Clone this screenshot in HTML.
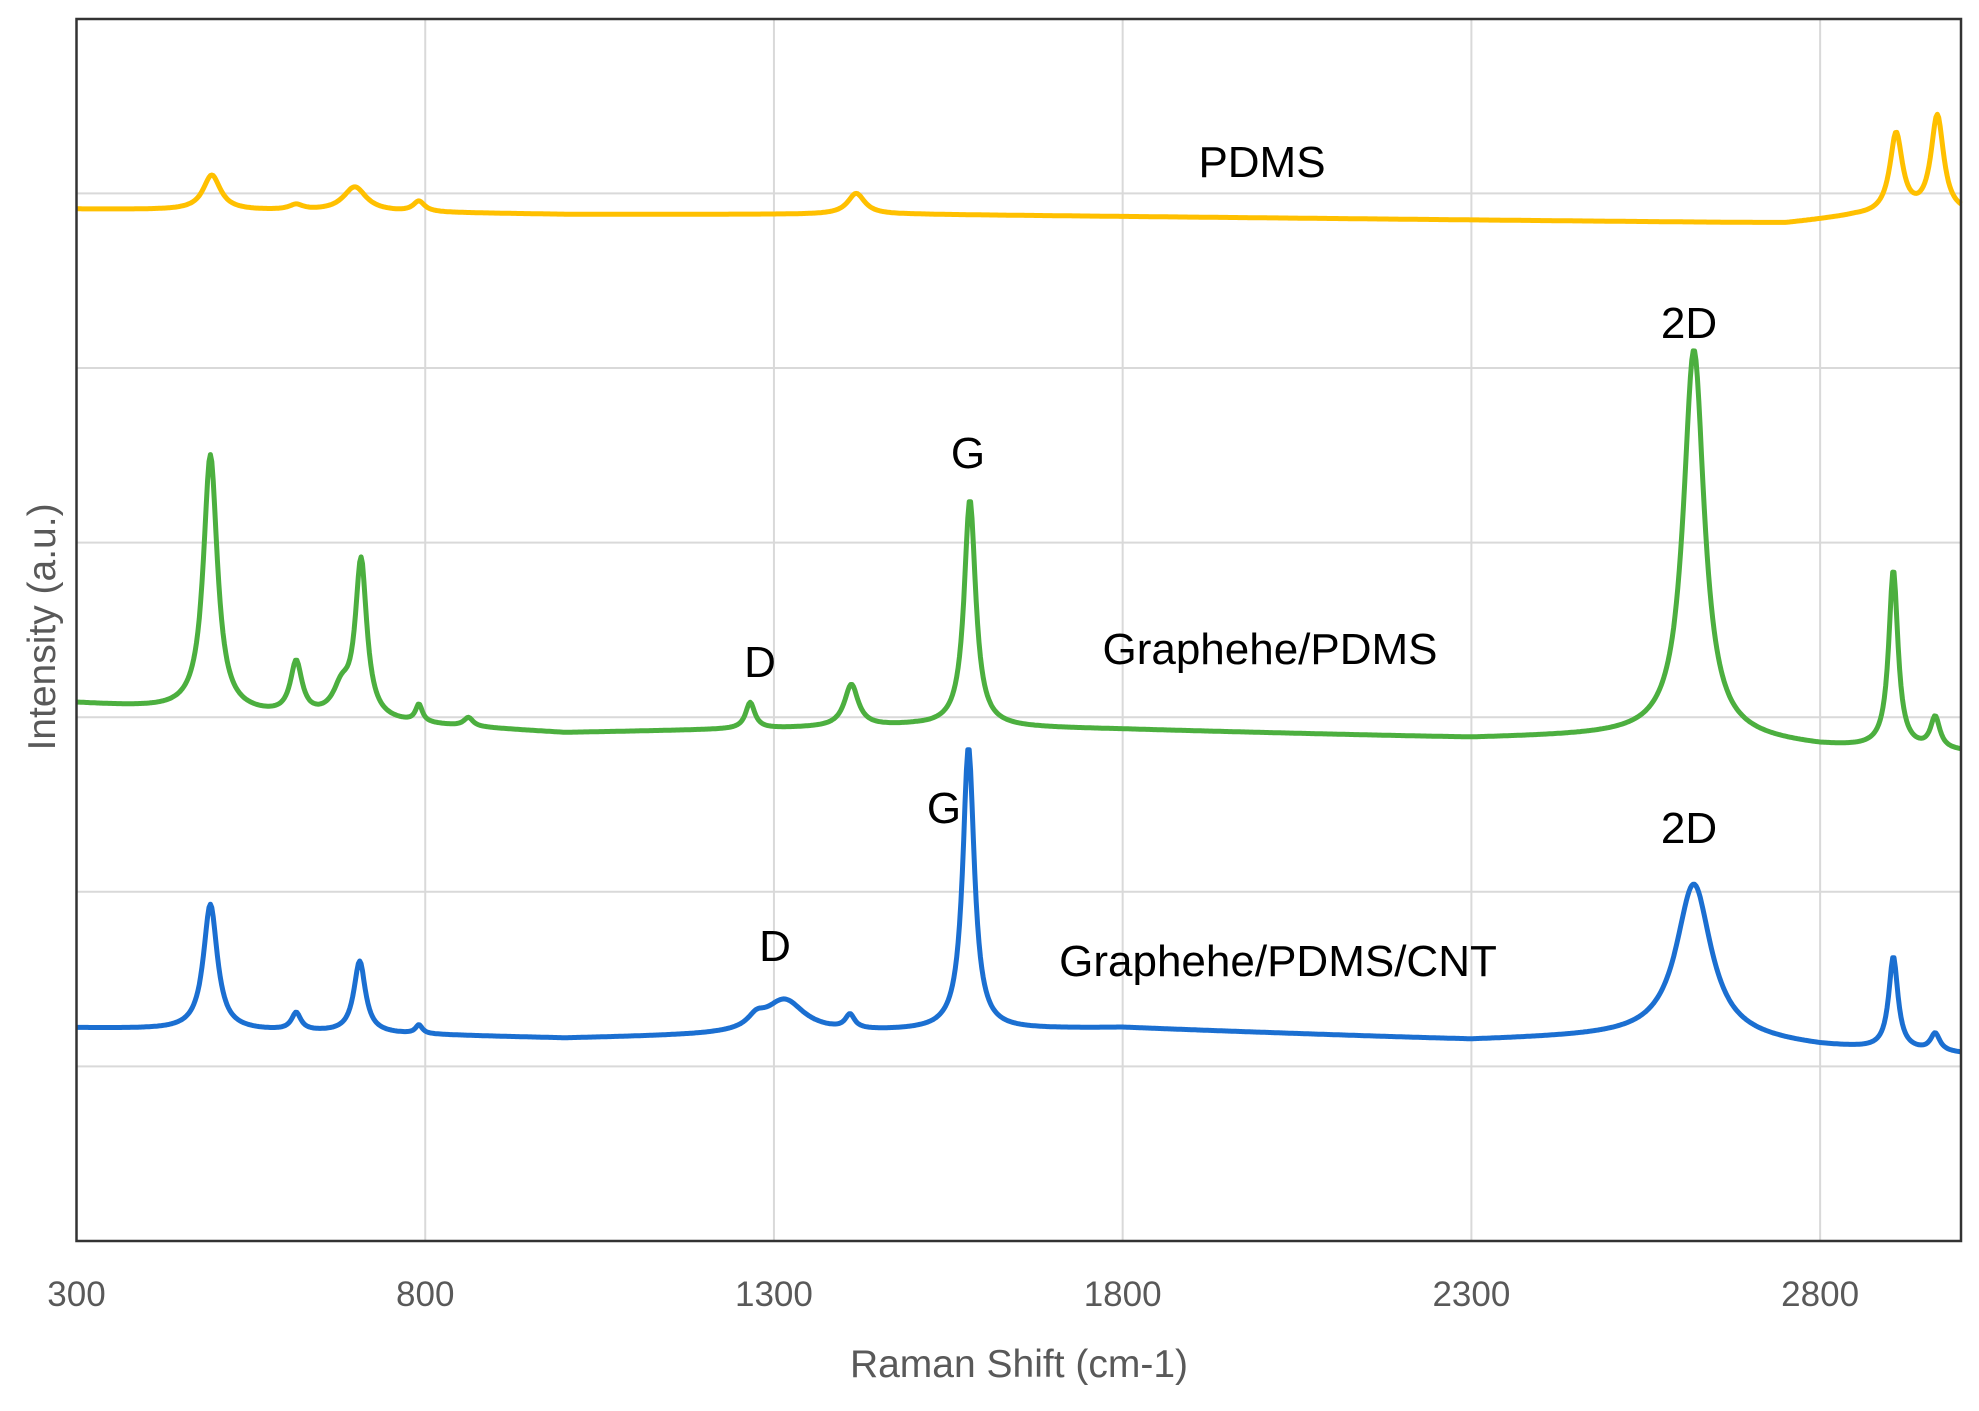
<!DOCTYPE html>
<html><head><meta charset="utf-8"><style>
body{margin:0;background:#fff}
svg{display:block;font-family:"Liberation Sans","DejaVu Sans",sans-serif}
</style></head><body>
<svg id="chart" width="1979" height="1411" viewBox="0 0 1979 1411">
<g id="grid"></g>
<g id="series"></g>
<rect x="76.5" y="19" width="1884.5" height="1222" fill="none" stroke="#333" stroke-width="2.5"/>
<g id="ticks" font-size="35" fill="#595959" text-anchor="middle"></g>
<text x="1019" y="1377" font-size="39" fill="#595959" text-anchor="middle">Raman Shift (cm-1)</text>
<text x="0" y="0" font-size="39" fill="#595959" text-anchor="middle" transform="translate(55,627) rotate(-90)">Intensity (a.u.)</text>
<g font-size="44" fill="#000" text-anchor="middle">
<text x="1262" y="177">PDMS</text>
<text x="1689" y="338">2D</text>
<text x="968" y="468">G</text>
<text x="1270" y="664">Graphehe/PDMS</text>
<text x="760" y="677">D</text>
<text x="944" y="823">G</text>
<text x="1689" y="843">2D</text>
<text x="775" y="961">D</text>
<text x="1278" y="976">Graphehe/PDMS/CNT</text>
</g>
</svg>
<script>
const xTicks=[300,800,1300,1800,2300,2800];
const yGrid=[1,2,3,4,5,6];
// PDMS
const pdmsBaseX=[300,600,1000,1500,2000,2500,2750,2850,3002];
const pdmsBaseY=[5.91,5.9,5.88,5.88,5.86,5.84,5.83,5.87,5.88];
const pdmsPeakPos=[494,615,699,791,1418,2909,2968];
const pdmsPeakH=[0.2,0.03,0.14,0.06,0.12,0.46,0.56];
const pdmsPeakW=[15,12,20,10,15,11,11];
// Graphene/PDMS
const grBaseX=[300,600,1000,1500,1800,2300,2600,2800,3002];
const grBaseY=[3.08,3.0,2.91,2.95,2.93,2.88,2.9,2.83,2.8];
const grPeakPos=[492,615,680,708,791,862,1266,1411,1581,2619,2905,2965];
const grPeakH=[1.47,0.3,0.15,0.9,0.1,0.05,0.15,0.24,1.3,2.21,1.02,0.18];
const grPeakW=[12,10,15,10,6,8,8,12,10,18,8,8];
// Graphene/PDMS/CNT
const cntBaseX=[300,600,1000,1500,1800,2300,2600,2800,3002];
const cntBaseY=[1.22,1.2,1.16,1.2,1.22,1.15,1.18,1.11,1.07];
const cntPeakPos=[492,615,706,791,1275,1315,1409,1579,2619,2905,2965];
const cntPeakH=[0.72,0.1,0.41,0.05,0.06,0.19,0.08,1.62,0.87,0.53,0.1];
const cntPeakW=[12,8,10,6,15,35,8,10,30,8,8];

const NS='http://www.w3.org/2000/svg';
const X0=76.5,X1=1961,XMIN=300,XMAX=3002,Y0=1241,UNIT=174.6;
function sx(v){return X0+(v-XMIN)*(X1-X0)/(XMAX-XMIN);}
function sy(u){return Y0-u*UNIT;}
function interp(xs,ys,x){for(let i=0;i<xs.length-1;i++){if(x<=xs[i+1]){const t=(x-xs[i])/(xs[i+1]-xs[i]);return ys[i]+t*(ys[i+1]-ys[i]);}}return ys[ys.length-1];}
function spec(bx,by,pp,ph,pw,x){let v=interp(bx,by,x);for(let i=0;i<pp.length;i++){const d=(x-pp[i])/pw[i];v+=ph[i]/(1+d*d);}return v;}

const grid=document.getElementById('grid');
yGrid.forEach(u=>{const l=document.createElementNS(NS,'line');
l.setAttribute('x1',X0);l.setAttribute('x2',X1);l.setAttribute('y1',sy(u));l.setAttribute('y2',sy(u));
l.setAttribute('stroke','#d9d9d9');l.setAttribute('stroke-width','2');


grid.appendChild(l);});
const ticks=document.getElementById('ticks');
xTicks.forEach(v=>{if(v>XMIN){const l=document.createElementNS(NS,'line');
l.setAttribute('x1',sx(v));l.setAttribute('x2',sx(v));l.setAttribute('y1',19);l.setAttribute('y2',Y0);
l.setAttribute('stroke','#d9d9d9');l.setAttribute('stroke-width','2');


grid.appendChild(l);}
const t=document.createElementNS(NS,'text');t.setAttribute('x',sx(v));t.setAttribute('y',1306);t.textContent=v;


ticks.appendChild(t);});

const series=document.getElementById('series');
function draw(bx,by,pp,ph,pw,color,name){let d='';
for(let x=XMIN;x<=XMAX;x+=2){const v=spec(bx,by,pp,ph,pw,x);d+=(x===XMIN?'M':'L')+sx(x).toFixed(1)+','+sy(v).toFixed(1);}
const p=document.createElementNS(NS,'path');p.setAttribute('d',d);p.setAttribute('fill','none');
p.setAttribute('stroke',color);p.setAttribute('stroke-width','5');p.setAttribute('stroke-linejoin','round');


series.appendChild(p);}
draw(pdmsBaseX,pdmsBaseY,pdmsPeakPos,pdmsPeakH,pdmsPeakW,'#FFC000','pdms-line');
draw(grBaseX,grBaseY,grPeakPos,grPeakH,grPeakW,'#4CAF3F','graphene-pdms-line');
draw(cntBaseX,cntBaseY,cntPeakPos,cntPeakH,cntPeakW,'#1B6FD1','graphene-pdms-cnt-line');
</script>
</body></html>
